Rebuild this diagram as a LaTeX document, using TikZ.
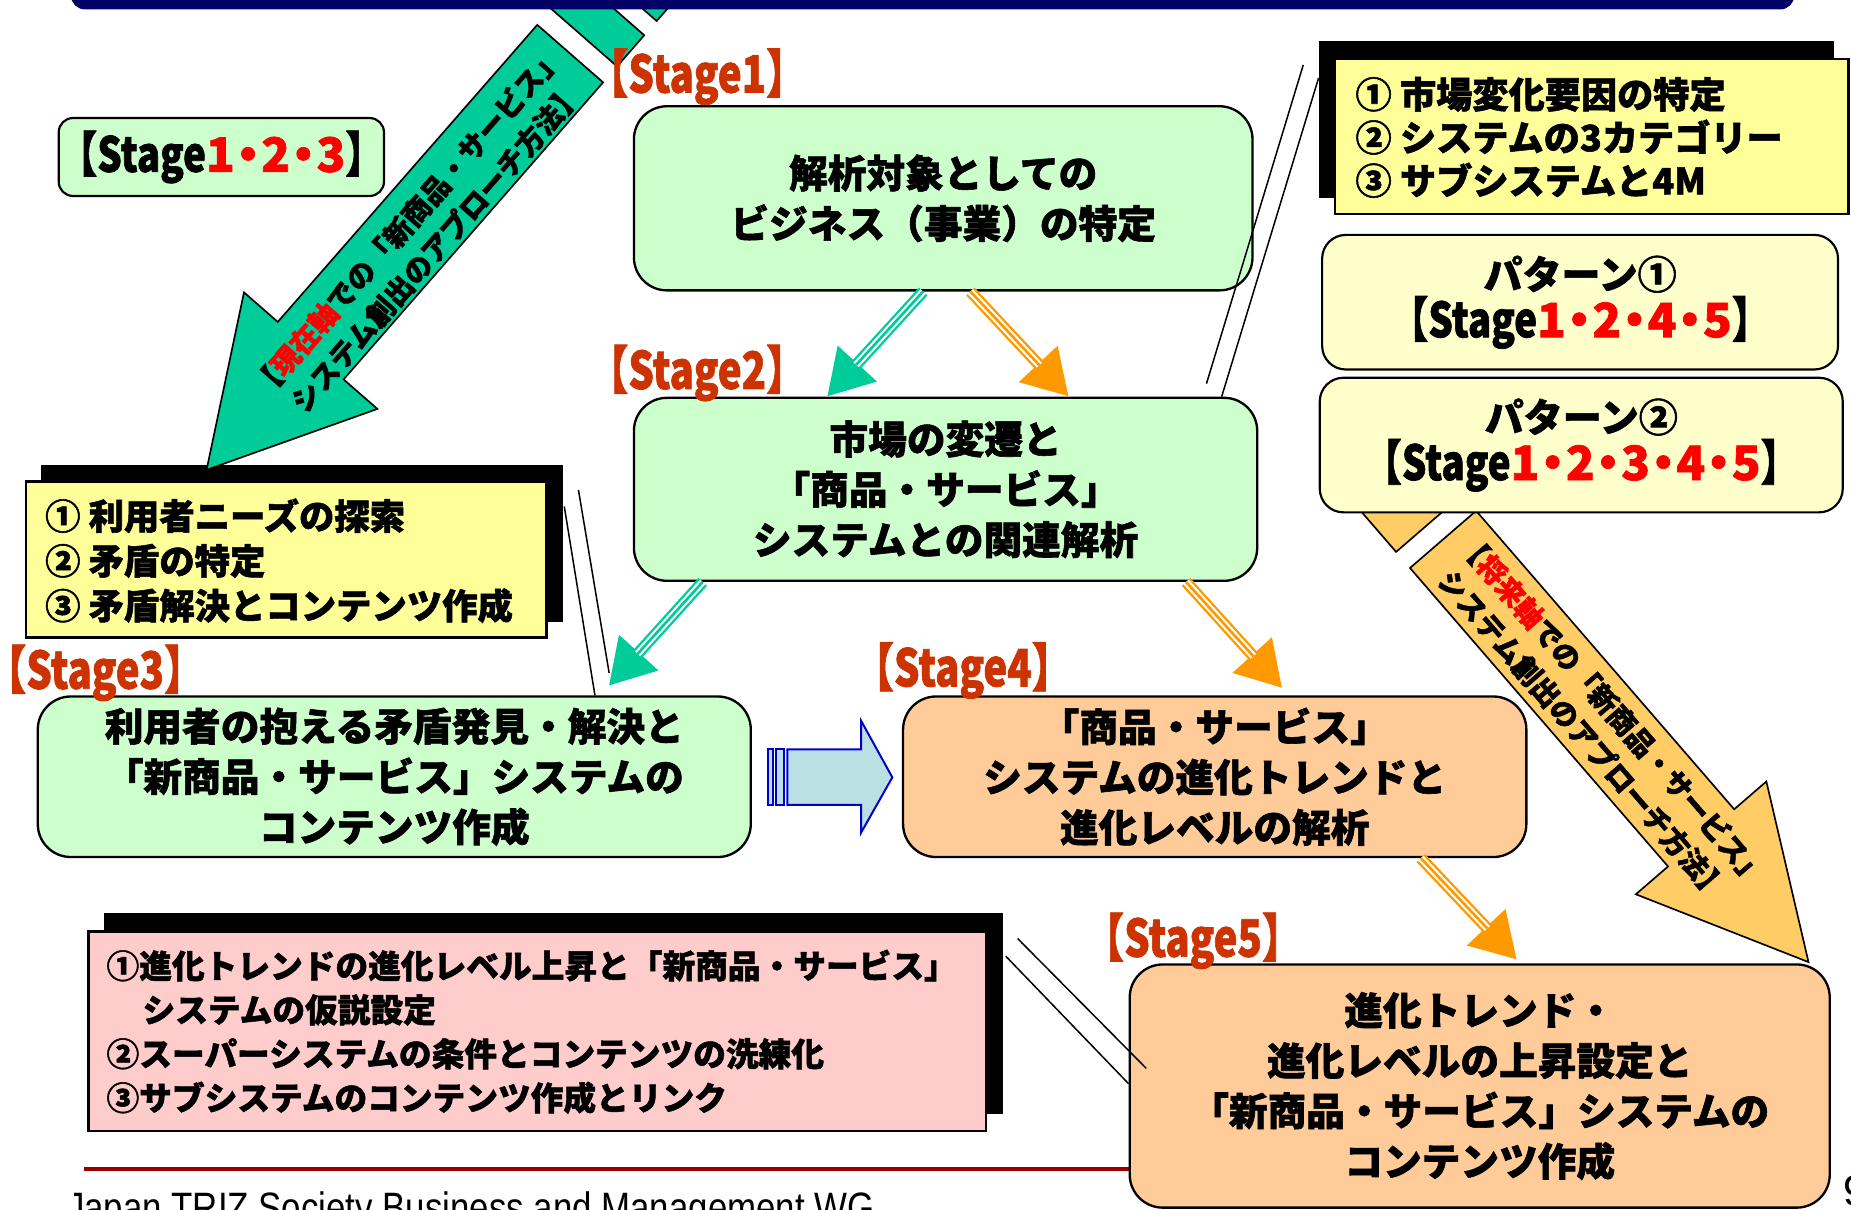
\documentclass[tikz,border=0pt]{standalone}
\usepackage{fontspec}
\usepackage{graphicx}
\setmainfont{Noto Sans CJK JP}[BoldFeatures={FakeBold=1.5}]
\newfontfamily\latf{Liberation Sans}
\usetikzlibrary{arrows.meta,calc}

\definecolor{grnbox}{HTML}{CCFFCC}
\definecolor{orgbox}{HTML}{FFCC99}
\definecolor{ylwbox}{HTML}{FFFF99}
\definecolor{palebox}{HTML}{FFFFCC}
\definecolor{pinkbox}{HTML}{FFCCCC}
\definecolor{stagec}{HTML}{CC3300}
\definecolor{tealc}{HTML}{00CC99}
\definecolor{orngc}{HTML}{FF9900}
\definecolor{bigorng}{HTML}{FFCC66}
\definecolor{navyc}{HTML}{000066}
\definecolor{lblue}{HTML}{BBE0E3}
\definecolor{bblue}{HTML}{0000CC}
\definecolor{footred}{HTML}{990000}

\newcommand\pxu{0.025cm}
\newcommand\fs[2]{\fontsize{#1pt}{#2pt}\selectfont}
\newcommand\stglab[1]{\scalebox{0.78}[1]{\fs{31}{34}\bfseries 【Stage#1】}}
\newcommand\rdot{\kern-0.22em・\kern-0.22em}
\newcommand\rnum[1]{{\color{red}\fs{28.5}{30}\bfseries #1}}
\newcommand\stgpre{\scalebox{0.8}[1]{\fs{29}{32}\bfseries 【Stage}}
\newcommand\stgpost{\scalebox{0.8}[1]{\fs{29}{32}\bfseries 】}}

\tikzset{
  sbox/.style={draw=black, line width=1.4pt, rounded corners=0.7cm, align=center,
    inner sep=0pt, font={\fs{23.3}{30.3}\bfseries}},
  pbox/.style={draw=black, line width=1.3pt, rounded corners=0.5cm, align=center,
    inner sep=0pt, fill=palebox},
  cbox/.style={draw=black, line width=1.4pt, inner sep=0pt},
  ctext/.style={anchor=west, align=left, inner sep=0pt},
  slab/.style={anchor=west, inner sep=0pt, text=stagec},
  tarr/.style={draw=#1, line width=7pt, -{Triangle[length=27pt,width=30pt]},
    postaction={draw=white, line width=4.2pt, -, shorten >=26pt},
    postaction={draw=#1, line width=1.6pt, -, shorten >=26pt}},
  cline/.style={draw=black, line width=0.9pt},
  bigarrow/.style={draw=black, line width=1pt},
  arrtext/.style={align=center, inner sep=0pt, font={\fs{17.1}{23.5}\bfseries}}
}

\begin{document}
\begin{tikzpicture}[x=0.025cm, y=-0.025cm]
\useasboundingbox (0,0) rectangle (1568,1025);
\begin{scope}
\clip (0,0) rectangle (1568,1025);
\fill[white] (0,0) rectangle (1568,1025);

% ---------- callout boxes with shadows ----------
\fill[black] (1117,35) rectangle (1554,168);
\node[cbox, fill=ylwbox, minimum width=435*\pxu, minimum height=131.5*\pxu] (tr) at (1348.5,115.75) {};
\node[ctext, font={\fs{21.8}{26}\bfseries}] (trt) at (1148,116.4)
  {① 市場変化要因の特定\\② システムの3カテゴリー\\③ サブシステムと4M};

\fill[black] (35,394) rectangle (477,527);
\node[cbox, fill=ylwbox, minimum width=441*\pxu, minimum height=132*\pxu] (ly) at (242.5,474) {};
\node[ctext, font={\fs{21.3}{27}\bfseries}] (lyt) at (38,475)
  {① 利用者ニーズの探索\\② 矛盾の特定\\③ 矛盾解決とコンテンツ作成};

\fill[black] (88,773) rectangle (850,944);
\node[cbox, fill=pinkbox, minimum width=760*\pxu, minimum height=169*\pxu] (pk) at (455,873.5) {};
\node[ctext, font={\fs{19.7}{26.5}\bfseries}] (pkt) at (90,874)
  {①進化トレンドの進化レベル上昇と「新商品・サービス」\\\hspace*{1.1em}システムの仮説設定\\②スーパーシステムの条件とコンテンツの洗練化\\③サブシステムのコンテンツ作成とリンク};

% ---------- green big arrow (present axis) ----------
\begin{scope}[shift={(175,398)}, x={(0.01645cm,0.018825cm)}, y={(0.018825cm,-0.01645cm)}]
  \filldraw[bigarrow, fill=tealc] (0,0) -- (134,75) -- (134,37) -- (468,37) -- (468,-37)
     -- (134,-37) -- (134,-75) -- cycle;
  \filldraw[bigarrow, fill=tealc] (486,-37) -- (521,-37) -- (521,37) -- (486,37) -- cycle;
  \filldraw[bigarrow, fill=tealc] (537,-37) -- (556,-37) -- (556,37) -- (537,37) -- cycle;
  \node[arrtext, rotate=48.85] (gtext) at (270,6)
    {【{\color{red}現在軸}での「新商品・サービス」\\システム創出のアプローチ方法】};
\end{scope}

% ---------- top bar ----------
\fill[navyc, rounded corners=0.3cm] (60,-30) rectangle (1520,8);

% ---------- orange big arrow (future axis) ----------
\begin{scope}[shift={(1532,815)}, x={(-0.01635cm,0.018925cm)}, y={(0.018925cm,0.01635cm)}]
  \filldraw[bigarrow, fill=bigorng] (0,0) -- (139,73) -- (139,37) -- (473,37) -- (473,-37)
     -- (139,-37) -- (139,-73) -- cycle;
  \filldraw[bigarrow, fill=bigorng] (491,-37) -- (540,-37) -- (540,37) -- (491,37) -- cycle;
  \node[arrtext, rotate=-49.17] (otext) at (270,-2)
    {【{\color{red}将来軸}での「新商品・サービス」\\システム創出のアプローチ方法】};
\end{scope}

% ---------- pattern boxes ----------
\node[pbox, minimum width=437*\pxu, minimum height=114*\pxu] (p1) at (1338.5,256)
  {{\fs{23.5}{30}\bfseries パターン①}\\[1pt]\stgpre\rnum{1\rdot2\rdot4\rdot5}\stgpost};
\node[pbox, minimum width=443*\pxu, minimum height=114*\pxu] (p2) at (1339.5,377)
  {{\fs{23.5}{30}\bfseries パターン②}\\[1pt]\stgpre\rnum{1\rdot2\rdot3\rdot4\rdot5}\stgpost};

% ---------- small stage 1-2-3 box ----------
\node[draw=black, line width=1.3pt, rounded corners=0.3cm, fill=grnbox, inner sep=0pt,
  minimum width=267*\pxu, minimum height=66*\pxu] (s123) at (187.5,133)
  {\stgpre\rnum{1\rdot2\rdot3}\stgpost};

% ---------- footer line ----------
\draw[footred, line width=2.2pt] (71,990) -- (1000,990);

% ---------- stage boxes ----------
\node[sbox, fill=grnbox, minimum width=524*\pxu, minimum height=156*\pxu] (s1) at (799,168)
  {解析対象としての\\ビジネス（事業）の特定};
\node[sbox, fill=grnbox, minimum width=528*\pxu, minimum height=155*\pxu] (s2) at (801,414.5)
  {市場の変遷と\\「商品・サービス」\\システムとの関連解析};
\node[sbox, fill=grnbox, minimum width=604*\pxu, minimum height=136*\pxu] (s3) at (334,658)
  {利用者の抱える矛盾発見・解決と\\「新商品・サービス」システムの\\コンテンツ作成};
\node[sbox, fill=orgbox, minimum width=528*\pxu, minimum height=136*\pxu] (s4) at (1029,658)
  {「商品・サービス」\\システムの進化トレンドと\\進化レベルの解析};
\node[sbox, fill=orgbox, minimum width=593*\pxu, minimum height=206*\pxu] (s5) at (1253.5,920)
  {進化トレンド・\\進化レベルの上昇設定と\\「新商品・サービス」システムの\\コンテンツ作成};

% ---------- stage labels ----------
\node[slab] (l1) at (498,65) {\stglab{1}};
\node[slab] (l2) at (498,316) {\stglab{2}};
\node[slab] (l3) at (-12,570) {\stglab{3}};
\node[slab] (l4) at (723,568) {\stglab{4}};
\node[slab] (l5) at (918,797) {\stglab{5}};

% ---------- triple-line arrows ----------
\draw[tarr=tealc] ($(s1.south west)!0.4676!(s1.south east)$) -- ($(s2.north west)!0.3106!(s2.north east)$);
\draw[tarr=orngc] ($(s1.south west)!0.5439!(s1.south east)$) -- ($(s2.north west)!0.697!(s2.north east)$);
\draw[tarr=tealc] ($(s2.south west)!0.1117!(s2.south east)$) -- ($(s3.north west)!0.7997!(s3.north east)+(0,-8)$);
\draw[tarr=orngc] ($(s2.south west)!0.8845!(s2.south east)$) -- ($(s4.north west)!0.608!(s4.north east)+(0,-6)$);
\draw[tarr=orngc] ($(s4.south west)!0.8295!(s4.south east)$) -- ($(s5.north west)!0.553!(s5.north east)+(0,-3)$);

% ---------- blue striped arrow from stage 3 to stage 4 ----------
\filldraw[draw=bblue, line width=1.2pt, fill=lblue] (667,634.7) -- (729.4,634.7) -- (729.4,610.5)
  -- (755.9,658.5) -- (729.4,705.4) -- (729.4,681.9) -- (667,681.9) -- cycle;
\filldraw[draw=bblue, line width=1.2pt, fill=lblue] (650.8,634.7) rectangle (654.5,681.9);
\filldraw[draw=bblue, line width=1.2pt, fill=lblue] (657.3,634.7) rectangle (664.1,681.9);

% ---------- callout connector lines ----------
\coordinate (trA1) at (1022,325);
\coordinate (trA2) at (1104,55);
\coordinate (trB1) at ($(s2.north west)!0.9413!(s2.north east)$);
\coordinate (trB2) at (1117,66);
\draw[cline] (trA1) -- (trA2);
\draw[cline] (trB1) -- (trB2);

\coordinate (lA1) at (490,415);
\coordinate (lA2) at (516,570);
\coordinate (lB1) at (478,429);
\coordinate (lB2) at ($(s3.north west)!0.7805!(s3.north east)$);
\draw[cline] (lA1) -- (lA2);
\draw[cline] (lB1) -- (lB2);

\coordinate (pA1) at (862,795);
\coordinate (pA2) at (971,905);
\coordinate (pB1) at (852,810);
\coordinate (pB2) at (s5.west |- 0,918);
\draw[cline] (pA1) -- (pA2);
\draw[cline] (pB1) -- (pB2);

% ---------- footer ----------
\node[anchor=base west, inner sep=0pt] (foot) at (56.5,1036)
  {\scalebox{0.82}[1]{\latf\fs{25.6}{30}Japan TRIZ Society Business and Management WG}};
\node[anchor=base west, inner sep=0pt] (pg) at (1561.5,1021) {\latf\fs{25.6}{30}9};
\end{scope}
\end{tikzpicture}
\end{document}
